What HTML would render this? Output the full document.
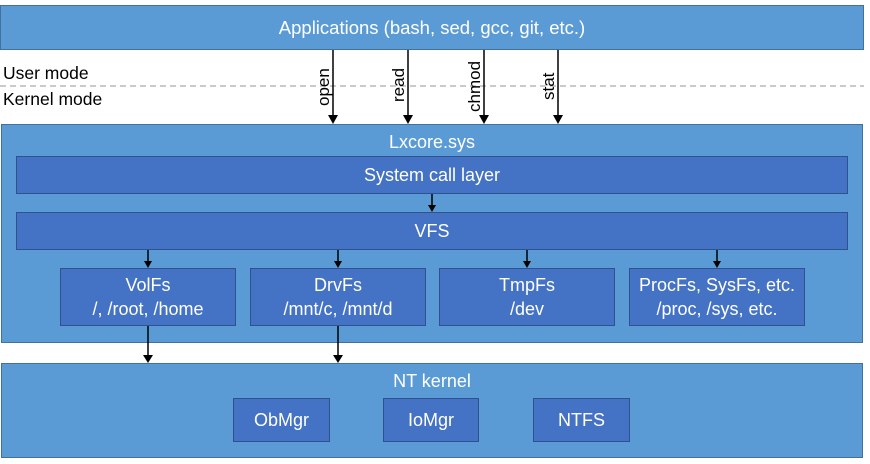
<!DOCTYPE html>
<html><head><meta charset="utf-8"><style>
body{margin:0;width:870px;height:464px;background:#fff;position:relative;overflow:hidden;font-family:"Liberation Sans",sans-serif;}
.b{position:absolute;box-sizing:border-box;color:#fff;text-align:center;}
.o{background:#5b9bd5;border:1px solid #41719c;}
.i{background:#4472c4;border:1px solid #2f528f;}
.c{display:flex;align-items:center;justify-content:center;flex-direction:column;line-height:24px;font-size:18px;}
.t{position:absolute;font-size:17.5px;color:#000;}
</style></head><body>
<div class="b o c" style="left:0;top:5px;width:864px;height:45px;font-size:18.5px;">Applications (bash, sed, gcc, git, etc.)</div>
<div class="t" style="left:3px;top:63px;">User mode</div>
<div class="t" style="left:3px;top:89px;">Kernel mode</div>
<div class="b o" style="left:1px;top:124px;width:862px;height:219px;"><div style="position:absolute;left:0;right:0;top:7px;font-size:18px;">Lxcore.sys</div></div>
<div class="b i c" style="left:16px;top:156px;width:832px;height:38px;">System call layer</div>
<div class="b i c" style="left:16px;top:212px;width:832px;height:38px;">VFS</div>
<div class="b i c" style="left:60px;top:268px;width:176px;height:58px;">VolFs<br>/, /root, /home</div>
<div class="b i c" style="left:250px;top:268px;width:176px;height:58px;">DrvFs<br>/mnt/c, /mnt/d</div>
<div class="b i c" style="left:439px;top:268px;width:176px;height:58px;">TmpFs<br>/dev</div>
<div class="b i c" style="left:629px;top:268px;width:176px;height:58px;">ProcFs, SysFs, etc.<br>/proc, /sys, etc.</div>
<div class="b o" style="left:1px;top:363px;width:862px;height:95px;"><div style="position:absolute;left:0;right:0;top:7px;font-size:18px;">NT kernel</div></div>
<div class="b i c" style="left:233px;top:398px;width:97px;height:44px;">ObMgr</div>
<div class="b i c" style="left:383px;top:398px;width:96px;height:44px;">IoMgr</div>
<div class="b i c" style="left:533px;top:398px;width:97px;height:44px;">NTFS</div>
<svg width="870" height="464" style="position:absolute;left:0;top:0" xmlns="http://www.w3.org/2000/svg">
<line x1="0" y1="86" x2="864" y2="86" stroke="#aaa" stroke-width="1.2" stroke-dasharray="6,4"/>
<g stroke="#000" stroke-width="1.5">
<line x1="333" y1="50" x2="333" y2="116"/><line x1="408" y1="50" x2="408" y2="116"/>
<line x1="484" y1="50" x2="484" y2="116"/><line x1="558" y1="50" x2="558" y2="116"/>
<line x1="432" y1="194" x2="432" y2="206"/>
<line x1="148" y1="250" x2="148" y2="262"/><line x1="338" y1="250" x2="338" y2="262"/>
<line x1="527" y1="250" x2="527" y2="262"/><line x1="717" y1="250" x2="717" y2="262"/>
<line x1="148" y1="326" x2="148" y2="356"/><line x1="338" y1="326" x2="338" y2="356"/>
</g>
<g fill="#000">
<path d="M328 115h10l-5 9z"/><path d="M403 115h10l-5 9z"/><path d="M479 115h10l-5 9z"/><path d="M553 115h10l-5 9z"/>
<path d="M428 205h8l-4 7z"/>
<path d="M144 261h8l-4 7z"/><path d="M334 261h8l-4 7z"/><path d="M523 261h8l-4 7z"/><path d="M713 261h8l-4 7z"/>
<path d="M143 355h10l-5 8z"/><path d="M333 355h10l-5 8z"/>
</g>
<g font-family="Liberation Sans,sans-serif" font-size="17" fill="#000">
<text transform="translate(329,106) rotate(-90)">open</text>
<text transform="translate(404,102) rotate(-90)">read</text>
<text transform="translate(480,112) rotate(-90)">chmod</text>
<text transform="translate(554,100) rotate(-90)">stat</text>
</g>
</svg>
</body></html>
